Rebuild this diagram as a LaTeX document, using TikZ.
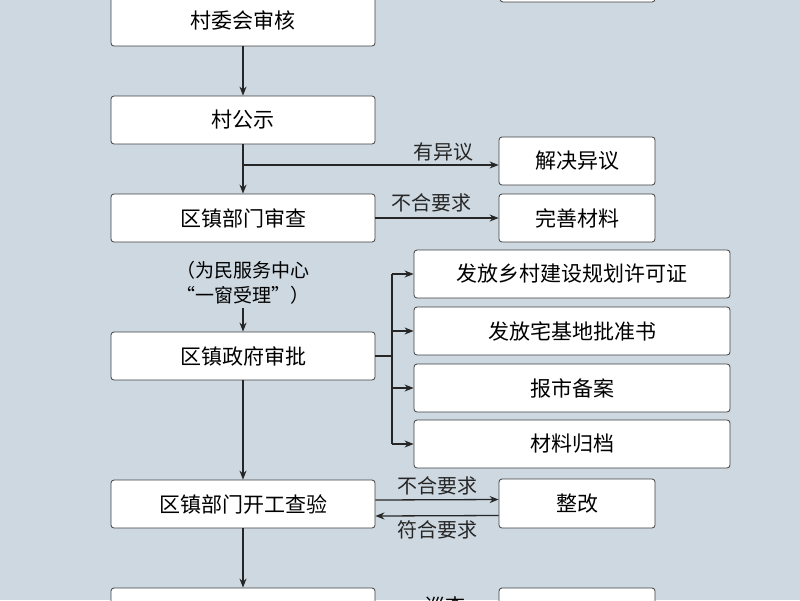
\documentclass[tikz,border=0pt]{standalone}
\usepackage{fontspec}
\setmainfont{Noto Sans CJK SC}
\usetikzlibrary{arrows.meta}
\definecolor{bg}{HTML}{CDD8E1}
\begin{document}
\begin{tikzpicture}[x=1pt,y=-1pt,
  box/.style={draw=black!75,fill=white,rounded corners=3pt,line width=0.8pt,font=\fontsize{21}{23}\selectfont},
  lbl/.style={font=\fontsize{20}{22}\selectfont},
  arr/.style={-{Stealth[length=9pt,width=7pt]},line width=1.3pt,black!85}]
\clip (0,0) rectangle (800,600);
\fill[bg] (0,0) rectangle (800,600);
\def\bx#1#2#3#4#5#6{\node[box,minimum width=#4-#2,minimum height=#5-#3,inner sep=0pt] (#1) at ({(#2+#4)/2},{(#3+#5)/2}) {#6};}
\bx{a}{111}{-6}{375}{46}{\raisebox{-3pt}{村委会审核}}
\bx{t}{500}{-40}{655}{2}{}
\bx{b}{111}{96}{375}{144}{村公示}
\bx{c}{111}{194}{375}{242}{区镇部门审查}
\bx{d}{499}{137}{655}{185}{解决异议}
\bx{e}{499}{194}{655}{242}{完善材料}
\bx{f}{111}{332}{375}{380}{区镇政府审批}
\bx{g1}{414}{250}{730}{298}{发放乡村建设规划许可证}
\bx{g2}{414}{307}{730}{355}{发放宅基地批准书}
\bx{g3}{414}{364}{730}{412}{报市备案}
\bx{g4}{414}{420}{730}{468}{材料归档}
\bx{h}{111}{480}{375}{528}{区镇部门开工查验}
\bx{i}{499}{479}{655}{528}{整改}
\bx{j}{111}{588}{375}{640}{}
\bx{k}{499}{588}{655}{640}{}
\node[lbl,align=center,font=\fontsize{19}{25}\selectfont] (note) at (243,283) {（为民服务中心\\“一窗受理”）};
\draw[arr] (a) -- (b);
\draw[arr] (b) -- (c);
\coordinate (s1) at (243,165);
\draw[arr] (s1) -- (d.west|-s1) node[lbl,midway,above=0pt,xshift=73pt] {有异议};
\draw[arr] (c) -- (e) node[lbl,midway,above=2pt,xshift=-6pt] {不合要求};
\draw[arr] (note.south) -- (f.north);
\coordinate (v1) at (392,274);
\coordinate (v4) at (392,444);
\draw[line width=1.3pt,black!85] (f.east) -- (392,356);
\draw[line width=1.3pt,black!85] (v1) -- (v4);
\foreach \n in {g1,g2,g3,g4}{\draw[arr] (392,0|-\n.west) -- (\n.west);}
\draw[arr] (f) -- (h);
\draw[arr] ([yshift=4pt]h.east) -- ([yshift=4pt]i.west) node[lbl,midway,above=1pt] {不合要求};
\draw[arr] ([yshift=-12pt]i.west) -- ([yshift=-12pt]h.east) node[lbl,midway,below=1pt] {符合要求};
\draw[arr] (h) -- (j);
\node[lbl] (x) at (445,606) {巡查};
\end{tikzpicture}
\end{document}
